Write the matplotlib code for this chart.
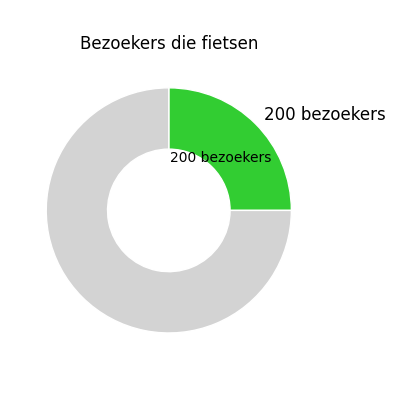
import matplotlib
matplotlib.use("Agg")
import matplotlib.pyplot as plt

categories = ["Fietsen", "Overig"]
values = [200, 600]
labels = ["200 bezoekers", ""]
inner_labels = ["200 bezoekers", ""]
colors = ["#32CD32", "#D3D3D3"]

fig = plt.figure(figsize=(4, 4), dpi=100)
ax = fig.add_axes([0.039, 0.091, 0.766, 0.766])

it = iter(inner_labels)
wedges, texts, autotexts = ax.pie(
    values, labels=labels, colors=colors, startangle=90, counterclock=False,
    autopct=lambda p: next(it), pctdistance=0.6, labeldistance=1.1,
    wedgeprops=dict(width=0.5, edgecolor="white", linewidth=1),
    textprops=dict(fontsize=10),
)
for t in texts:
    t.set_fontsize(12)
ax.set_title("Bezoekers die fietsen", fontsize=12)
fig.savefig("out.png", dpi=100)
